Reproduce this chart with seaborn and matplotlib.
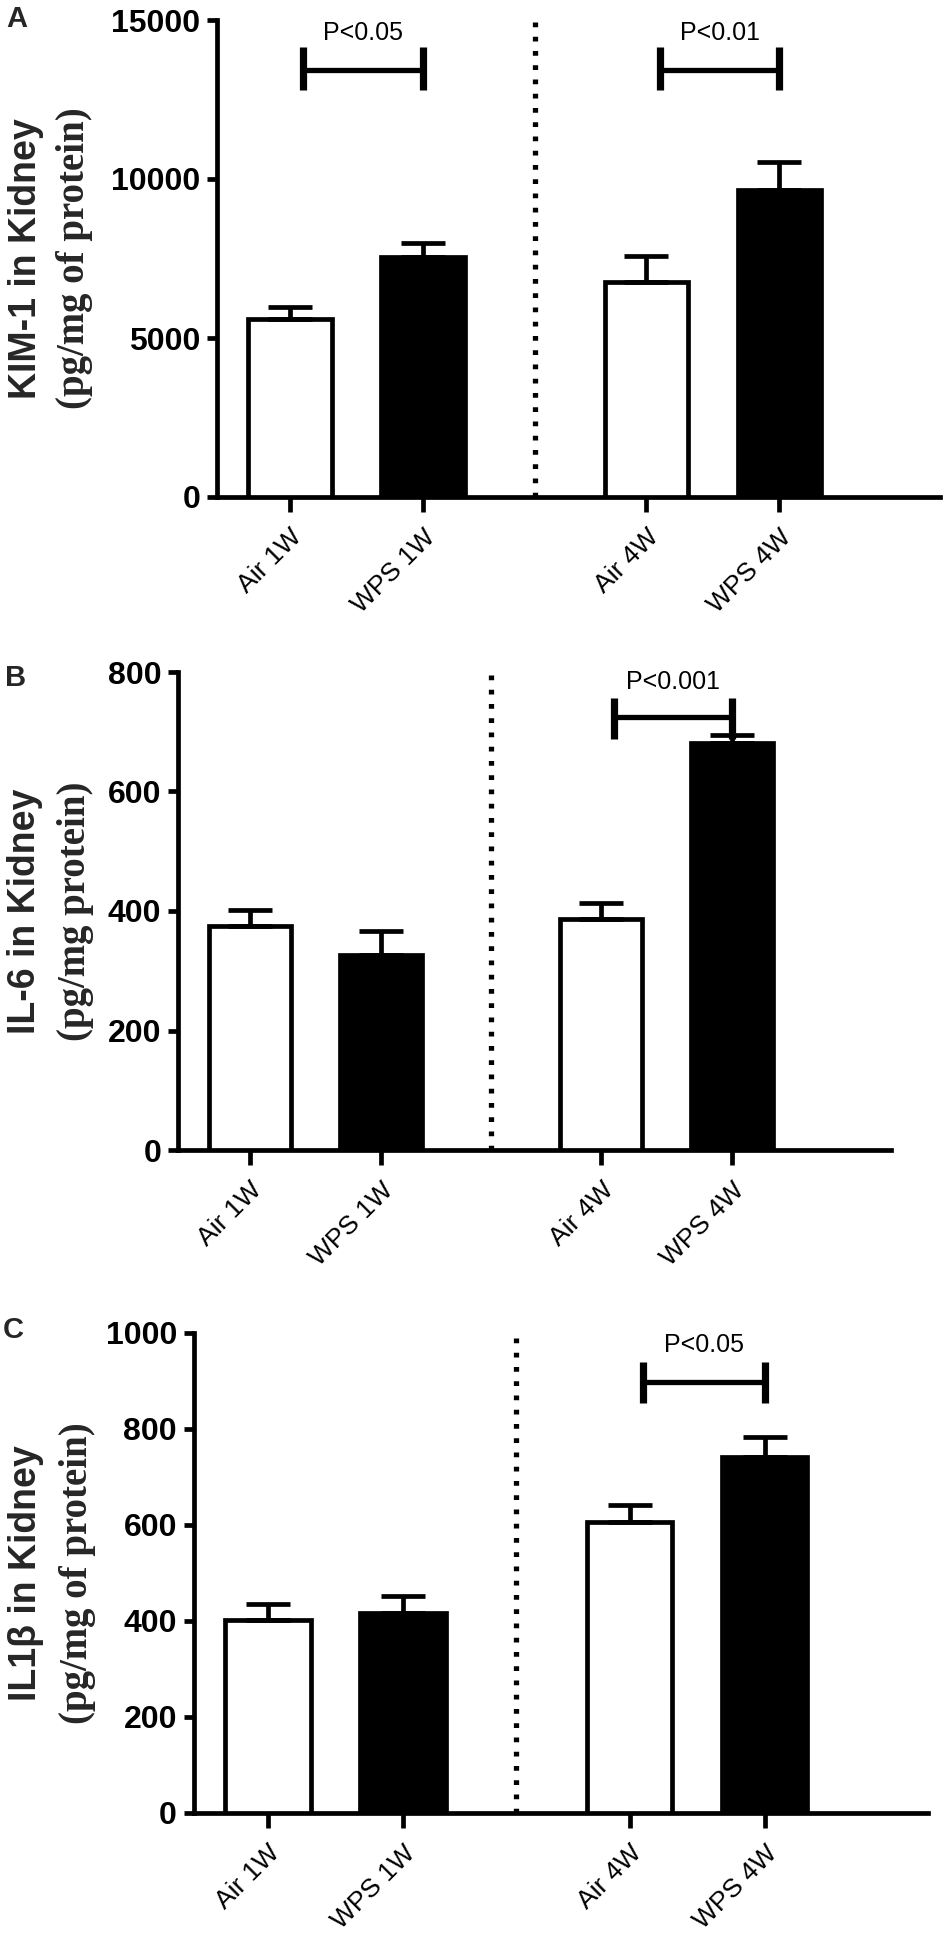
import numpy as np
import pandas as pd
import matplotlib
matplotlib.use("Agg")
import matplotlib.pyplot as plt
import seaborn as sns

# ---------------- data ----------------
groups = ["Air 1W", "WPS 1W", "Air 4W", "WPS 4W"]
positions = [0.0, 1.0, 2.68, 3.68]
fill_colors = {"Air 1W": "white", "WPS 1W": "black", "Air 4W": "white", "WPS 4W": "black"}

kim1_mean = [5600, 7550, 6760, 9650]
kim1_sem = [375, 440, 820, 880]
il6_mean = [375, 326, 386, 681]
il6_sem = [27, 41, 28, 13]
il1b_mean = [402, 417, 606, 742]
il1b_sem = [33, 35, 36, 41]

kim1_ticks = [0, 5000, 10000, 15000]
il6_ticks = [0, 200, 400, 600, 800]
il1b_ticks = [0, 200, 400, 600, 800, 1000]

kim1_labels = ["KIM-1 in Kidney", "(pg/mg of protein)"]
il6_labels = ["IL-6 in Kidney", "(pg/mg protein)"]
il1b_labels = ["IL1β in Kidney", "(pg/mg of protein)"]

# significance brackets: (start index, end index, text)
kim1_sig = [(0, 1, "P<0.05"), (2, 3, "P<0.01")]
il6_sig = [(2, 3, "P<0.001")]
il1b_sig = [(2, 3, "P<0.05")]

# ---------------- style ----------------
sns.set_style("ticks")
plt.rcParams["font.family"] = ["Liberation Sans", "DejaVu Sans"]

W, H = 950, 1938
fig = plt.figure(figsize=(W / 100, H / 100), dpi=100)

XL, XR = -0.55, 4.89
LW = 3.4


def add_axes_px(p0, u, top, bottom):
    left = p0 + XL * u
    right = p0 + XR * u
    return fig.add_axes([left / W, 1 - bottom / H, (right - left) / W, (bottom - top) / H])


def panel(ax, means, sems, ticks, labels, sig, letter, letter_xy, label_x, bracket):
    df = pd.DataFrame({"pos": positions, "val": means, "grp": groups})
    sns.barplot(data=df, x="pos", y="val", hue="grp", hue_order=groups,
                palette=fill_colors, native_scale=True, width=0.63,
                edgecolor="black", linewidth=LW, dodge=False, legend=False,
                errorbar=None, ax=ax, zorder=3)
    ax.errorbar(positions, means, yerr=[np.zeros(len(sems)), sems], fmt="none",
                ecolor="black", elinewidth=LW, capsize=16, capthick=LW, zorder=4)
    ax.set_xlim(XL, XR)
    ax.set_ylim(0, ticks[-1])
    ax.set_yticks(ticks)
    ax.set_yticklabels([str(t) for t in ticks], fontsize=23, fontweight="bold")
    ax.set_xticks(positions)
    ax.set_xticklabels(groups, rotation=45, ha="right", rotation_mode="anchor",
                       fontsize=19)
    ax.set_xlabel("")
    ax.set_ylabel("")
    for s in ["top", "right"]:
        ax.spines[s].set_visible(False)
    for s in ["left", "bottom"]:
        ax.spines[s].set_linewidth(LW)
        ax.spines[s].set_color("black")
    ax.tick_params(axis="y", length=7, width=LW, pad=5, colors="black")
    ax.tick_params(axis="x", length=11, width=LW, pad=9, colors="black")
    ax.axvline((positions[1] + positions[2]) / 2, color="black", lw=3.8,
               linestyle=(0, (0.9, 1.8)), zorder=2)
    y_h, y_lo, y_hi, y_txt = bracket
    for i, j, txt in sig:
        x0 = positions[i] + 0.1
        x1 = positions[j]
        ax.plot([x0, x1], [y_h, y_h], color="black", lw=LW + 0.4, solid_capstyle="butt",
                clip_on=False, zorder=5)
        for xx in (x0, x1):
            ax.plot([xx, xx], [y_lo, y_hi], color="black", lw=LW + 1.8,
                    solid_capstyle="butt", clip_on=False, zorder=5)
        ax.text((x0 + x1) / 2, y_txt, txt, ha="center", va="center",
                fontsize=18, color="black", zorder=6)
    # y labels (two lines, different fonts)
    bb = ax.get_position()
    yc = (bb.y0 + bb.y1) / 2
    fig.text(label_x[0] / W, yc, labels[0], rotation=90, ha="center", va="center",
             fontsize=27, fontweight="bold")
    fig.text(label_x[1] / W, yc, labels[1], rotation=90, ha="center", va="center",
             fontsize=28, fontweight="bold",
             family=["Liberation Serif", "DejaVu Serif"])
    fig.text(letter_xy[0] / W, 1 - letter_xy[1] / H, letter, ha="left",
             va="baseline", fontsize=21, fontweight="bold")


axA = add_axes_px(290, 133, 20, 497)
panel(axA, kim1_mean, kim1_sem, kim1_ticks, kim1_labels, kim1_sig, "A", (6, 27),
      (26, 75), (13430, 12800, 14150, 14600))

axB = add_axes_px(250, 131, 672, 1150)
panel(axB, il6_mean, il6_sem, il6_ticks, il6_labels, il6_sig, "B", (5, 686),
      (25, 76), (725, 688, 756, 783))

axC = add_axes_px(268, 135, 1333, 1813)
panel(axC, il1b_mean, il1b_sem, il1b_ticks, il1b_labels, il1b_sig, "C", (3, 1338),
      (26, 78), (898, 854, 940, 975))

fig.savefig("out.png", dpi=100, facecolor="white")
